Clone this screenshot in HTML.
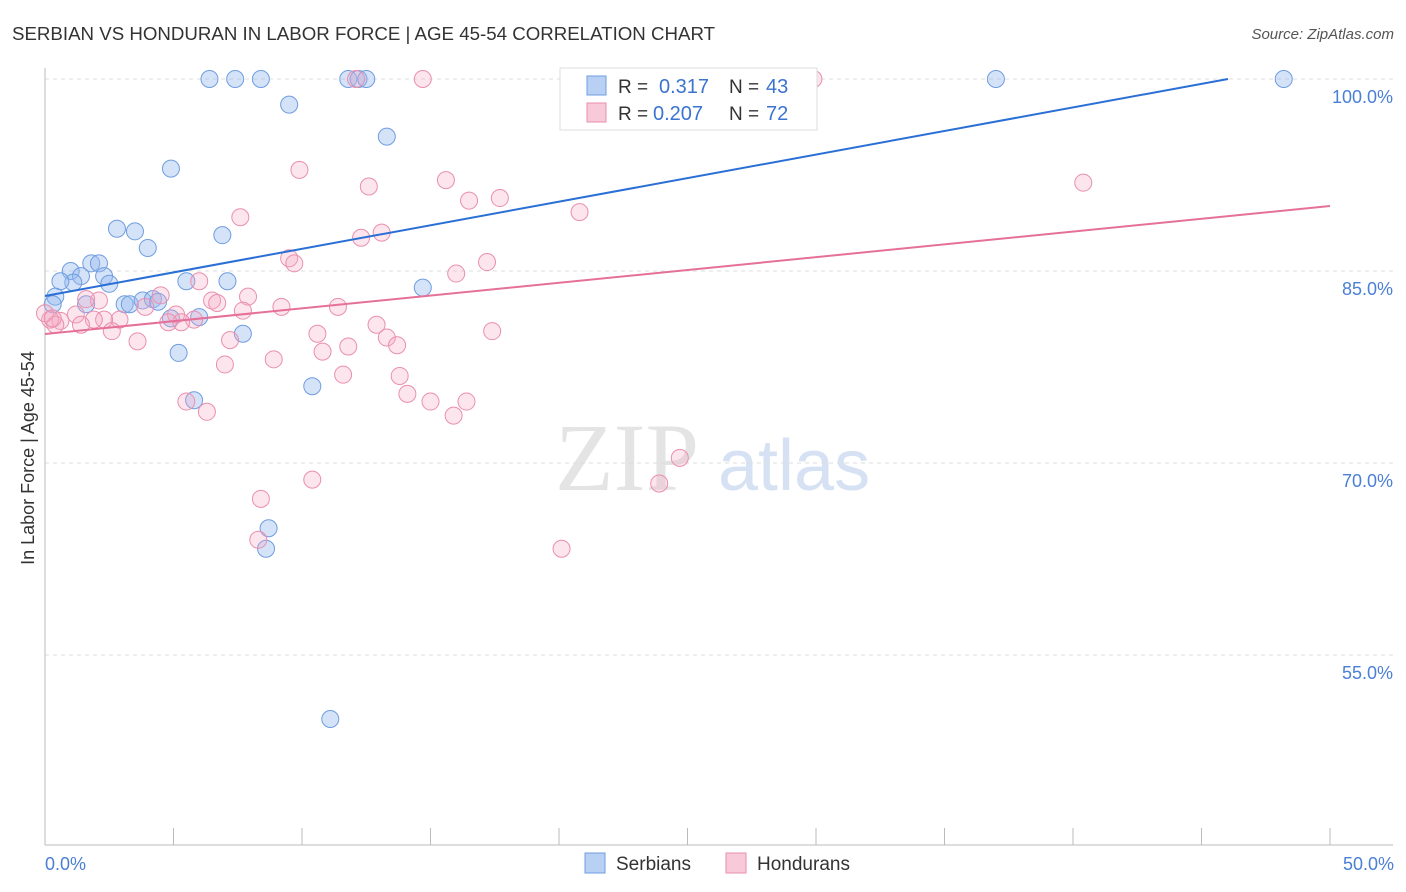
<!DOCTYPE html>
<html><head><meta charset="utf-8"><style>
body{margin:0;background:#fff;font-family:"Liberation Sans",sans-serif;}
#wrap{position:relative;width:1406px;height:892px;overflow:hidden;}
</style></head><body>
<div id="wrap">
<svg id="svg" width="1406" height="892" xmlns="http://www.w3.org/2000/svg">
<text x="12" y="40" font-size="18.7" fill="#333">SERBIAN VS HONDURAN IN LABOR FORCE | AGE 45-54 CORRELATION CHART</text>
<text x="1394" y="39" font-size="15" fill="#555" font-style="italic" text-anchor="end">Source: ZipAtlas.com</text>
<text x="34" y="458" font-size="18" fill="#333" text-anchor="middle" transform="rotate(-90 34 458)">In Labor Force | Age 45-54</text>
<text x="555" y="490" font-size="96" fill="#e4e4e4" font-family="Liberation Serif,serif">ZIP</text>
<text x="718" y="490" font-size="72" fill="#d6e2f3">atlas</text>
<g id="grid"></g><g id="pts"></g><g id="lines"></g>
<g>
<rect x="560" y="68" width="257" height="62" fill="#fff" stroke="#ddd"/>
<rect x="587" y="76" width="19" height="19" fill="#b8d0f3" stroke="#6f9de0"/>
<rect x="587" y="103" width="19" height="19" fill="#f8c9d8" stroke="#ea8fae"/>
<text x="618" y="93" font-size="19" fill="#333">R =</text>
<text x="659" y="93" font-size="20" fill="#3b73d0">0.317</text>
<text x="729" y="93" font-size="19" fill="#333">N =</text>
<text x="766" y="93" font-size="20" fill="#3b73d0">43</text>
<text x="618" y="120" font-size="19" fill="#333">R =</text>
<text x="653" y="120" font-size="20" fill="#3b73d0">0.207</text>
<text x="729" y="120" font-size="19" fill="#333">N =</text>
<text x="766" y="120" font-size="20" fill="#3b73d0">72</text>
</g>
<g>
<rect x="585" y="853" width="20" height="20" fill="#b8d0f3" stroke="#6f9de0"/>
<text x="616" y="870" font-size="19" fill="#333">Serbians</text>
<rect x="726" y="853" width="20" height="20" fill="#f8c9d8" stroke="#ea8fae"/>
<text x="757" y="870" font-size="19" fill="#333">Hondurans</text>
</g>
<text x="45" y="870" font-size="18" fill="#4a7fd4">0.0%</text>
<text x="1394" y="870" font-size="18" fill="#4a7fd4" text-anchor="end">50.0%</text>
</svg>
</div>
<script>
const yTicks=[100,85,70,55];
const yTickLabels=["100.0%","85.0%","70.0%","55.0%"];
const xTicks=[0,5,10,15,20,25,30,35,40,45,50];
const serbX=[6.4,7.4,8.4,11.8,12.2,12.5,37.0,48.2,9.5,13.3,4.9,2.8,3.5,6.9,4.0,1.8,2.1,1.0,1.4,1.1,0.6,2.3,2.5,5.5,7.1,14.7,0.4,0.3,1.6,3.1,3.3,3.8,4.2,4.4,4.9,6.0,7.7,5.2,10.4,5.8,8.7,8.6,11.1];
const serbY=[100,100,100,100,100,100,100,100,98.0,95.5,93.0,88.3,88.1,87.8,86.8,85.6,85.6,85.0,84.6,84.1,84.2,84.6,84.0,84.2,84.2,83.7,83.0,82.4,82.4,82.4,82.4,82.7,82.8,82.6,81.3,81.4,80.1,78.6,76.0,74.9,64.9,63.3,50.0];
const hondX=[12.1,14.7,27.4,29.9,40.4,9.9,12.6,15.6,16.5,17.7,20.8,7.6,12.3,13.1,9.5,9.7,16.0,17.2,6.0,2.1,1.6,6.5,6.7,7.9,9.2,11.4,7.7,4.5,3.9,5.1,5.8,5.3,4.8,2.9,2.3,1.9,1.2,0.6,0.2,0.4,1.4,2.6,3.6,7.2,10.6,12.9,13.3,11.8,10.8,13.7,8.9,7.0,11.6,13.8,14.1,15.0,16.4,15.9,5.5,6.3,17.4,10.4,8.4,24.7,23.9,8.3,20.1,0.0,0.3];
const hondY=[100,100,100,100,91.9,92.9,91.6,92.1,90.5,90.7,89.6,89.2,87.6,88.0,86.0,85.6,84.8,85.7,84.2,82.7,82.8,82.7,82.5,83.0,82.2,82.2,81.9,83.1,82.2,81.6,81.2,81.0,81.0,81.2,81.2,81.2,81.6,81.1,81.2,80.8,80.8,80.3,79.5,79.6,80.1,80.8,79.8,79.1,78.7,79.2,78.1,77.7,76.9,76.8,75.4,74.8,74.8,73.7,74.8,74.0,80.3,68.7,67.2,70.4,68.4,64.0,63.3,81.7,81.3];
const trendSerb=[83.05,100,46.03];
const trendHond=[80.08,90.08,50];
const X0=45,X1=1330,Y100=79,PXP=12.8;
const sx=v=>X0+(X1-X0)*v/50;
const sy=v=>Y100+(100-v)*PXP;
const NS="http://www.w3.org/2000/svg";
function mk(t,a,p){const e=document.createElementNS(NS,t);for(const k in a)e.setAttribute(k,a[k]);p.appendChild(e);return e;}
const grid=document.getElementById('grid');
yTicks.forEach((t,i)=>{
 const l=mk('line',{x1:X0,x2:1393,y1:sy(t),y2:sy(t),stroke:'#ddd','stroke-dasharray':'4,4'},grid);
 
 
 const tx=mk('text',{x:1393,y:sy(t)+24,'font-size':18,fill:'#4a7fd4','text-anchor':'end'},grid);
 tx.textContent=yTickLabels[i];
 
 
});
const ax=mk('line',{x1:X0,x2:X0,y1:68,y2:845,stroke:'#bbb'},grid);


const bx=mk('line',{x1:X0,x2:1393,y1:845,y2:845,stroke:'#bbb'},grid);


xTicks.forEach(t=>{
 const l=mk('line',{x1:sx(t),x2:sx(t),y1:828,y2:845,stroke:'#bbb'},grid);
 
 
});
const pts=document.getElementById('pts');
serbX.forEach((x,i)=>{
 const c=mk('circle',{cx:sx(x),cy:sy(serbY[i]),r:8.5,fill:'rgba(150,185,240,0.4)',stroke:'#6f9de0','stroke-width':1},pts);
 
 
});
hondX.forEach((x,i)=>{
 const c=mk('circle',{cx:sx(x),cy:sy(hondY[i]),r:8.5,fill:'rgba(245,170,195,0.3)',stroke:'#ea8fae','stroke-width':1},pts);
 
 
});
const lines=document.getElementById('lines');
const ls=mk('line',{x1:sx(0),y1:sy(trendSerb[0]),x2:sx(trendSerb[2]),y2:sy(trendSerb[1]),stroke:'#2a6fd6','stroke-width':2},lines);


const lh=mk('line',{x1:sx(0),y1:sy(trendHond[0]),x2:sx(trendHond[2]),y2:sy(trendHond[1]),stroke:'#e5709a','stroke-width':2},lines);


</script>
</body></html>
